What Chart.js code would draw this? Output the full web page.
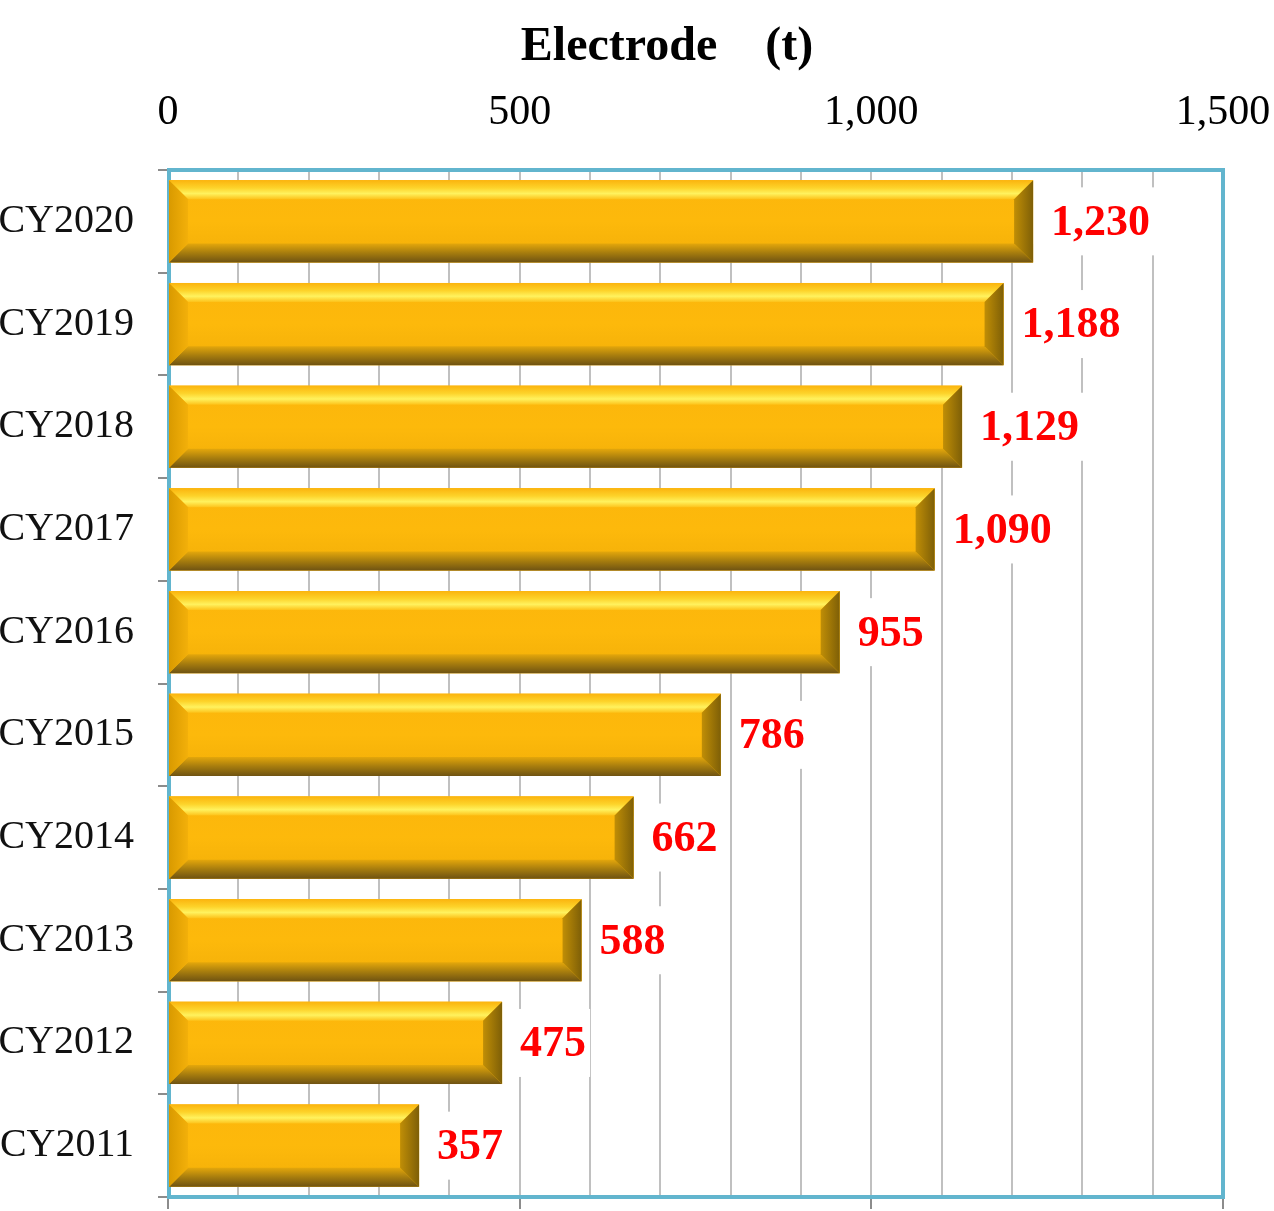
<!DOCTYPE html>
<html>
<head>
<meta charset="utf-8">
<script src="https://cdn.jsdelivr.net/npm/chart.js@4/dist/chart.umd.min.js"></script>
<style>
  html, body { margin: 0; padding: 0; background: #fff; }
  #wrap { width: 1274px; height: 1211px; }
</style>
</head>
<body>
<div id="wrap"><canvas id="electrodeChart" width="1274" height="1211"></canvas></div>
<script>
// data
const categories = ['CY2020', 'CY2019', 'CY2018', 'CY2017', 'CY2016', 'CY2015', 'CY2014', 'CY2013', 'CY2012', 'CY2011'];
const electrodeTonnes = [1230, 1188, 1129, 1090, 955, 786, 662, 588, 475, 357];
const axisTicks = [0, 500, 1000, 1500];
const gridStep = 100;
const chartTitle = 'Electrode\u3000(t)';

const FONT = "'Liberation Serif', 'Times New Roman', serif";

// no extra label padding, so the plot area lands where the original has it
function noPad(s) {
  s.paddingLeft = 0; s.paddingRight = 0; s.paddingTop = 0; s.paddingBottom = 0;
}

// title drawn over the plot, centred like the original
const titlePlugin = {
  id: 'titlePlugin',
  afterDraw(chart) {
    const ctx = chart.ctx;
    ctx.save();
    ctx.font = 'bold 48px ' + FONT;
    ctx.fillStyle = '#000';
    ctx.textAlign = 'center';
    ctx.textBaseline = 'middle';
    ctx.fillText(chartTitle, 667, 48);
    ctx.restore();
  }
};

// light blue frame round the plot area
const framePlugin = {
  id: 'framePlugin',
  beforeDatasetsDraw(chart) {
    const { ctx, chartArea: a } = chart;
    ctx.save();
    ctx.strokeStyle = '#62B5CE';
    ctx.lineWidth = 4;
    ctx.strokeRect(a.left + 1, a.top, a.right - a.left - 1, a.bottom - a.top);
    ctx.restore();
  }
};

// bevelled gold look on top of each bar, then the red value labels
const bevelPlugin = {
  id: 'bevelPlugin',
  afterDatasetsDraw(chart) {
    const ctx = chart.ctx;
    const meta = chart.getDatasetMeta(0);
    meta.data.forEach((bar, i) => {
      const p = bar.getProps(['x', 'y', 'base', 'height'], true);
      const L = p.base, R = p.x, T = p.y - p.height / 2, B = p.y + p.height / 2;
      const b = 19;
      ctx.save();

      // centre body
      const body = ctx.createLinearGradient(0, T, 0, B);
      body.addColorStop(0, '#FCB60C');
      body.addColorStop(0.5, '#FDB90B');
      body.addColorStop(1, '#F2AE08');
      ctx.fillStyle = body;
      ctx.fillRect(L, T, R - L, B - T);

      // top bevel
      const top = ctx.createLinearGradient(0, T, 0, T + b);
      top.addColorStop(0, '#FBB40E');
      top.addColorStop(0.4, '#FDD32A');
      top.addColorStop(0.7, '#FFF25E');
      top.addColorStop(1, '#FDC21A');
      ctx.fillStyle = top;
      ctx.beginPath();
      ctx.moveTo(L, T); ctx.lineTo(R, T); ctx.lineTo(R - b, T + b); ctx.lineTo(L + b, T + b);
      ctx.closePath(); ctx.fill();

      // bottom bevel
      const bot = ctx.createLinearGradient(0, B - b, 0, B);
      bot.addColorStop(0, '#E4A70B');
      bot.addColorStop(0.5, '#A67C0E');
      bot.addColorStop(1, '#6F5312');
      ctx.fillStyle = bot;
      ctx.beginPath();
      ctx.moveTo(L, B); ctx.lineTo(R, B); ctx.lineTo(R - b, B - b); ctx.lineTo(L + b, B - b);
      ctx.closePath(); ctx.fill();

      // left bevel
      const left = ctx.createLinearGradient(L, 0, L + b, 0);
      left.addColorStop(0, '#D99A00');
      left.addColorStop(1, '#F3B00A');
      ctx.fillStyle = left;
      ctx.beginPath();
      ctx.moveTo(L, T); ctx.lineTo(L + b, T + b); ctx.lineTo(L + b, B - b); ctx.lineTo(L, B);
      ctx.closePath(); ctx.fill();

      // right bevel
      const right = ctx.createLinearGradient(R - b, 0, R, 0);
      right.addColorStop(0, '#C08E06');
      right.addColorStop(1, '#7E5F07');
      ctx.fillStyle = right;
      ctx.beginPath();
      ctx.moveTo(R, T); ctx.lineTo(R, B); ctx.lineTo(R - b, B - b); ctx.lineTo(R - b, T + b);
      ctx.closePath(); ctx.fill();

      // value label with white backing (breaks the grid lines)
      const txt = electrodeTonnes[i].toLocaleString('en-US');
      ctx.font = 'bold 44px ' + FONT;
      const w = ctx.measureText(txt).width;
      const lx = R + 18;
      ctx.fillStyle = '#fff';
      ctx.fillRect(lx - 4, p.y - 34, w + 8, 68);
      ctx.fillStyle = '#FF0000';
      ctx.textAlign = 'left';
      ctx.textBaseline = 'middle';
      ctx.fillText(txt, lx, p.y + 2);
      ctx.restore();
    });
  }
};

const ctx = document.getElementById('electrodeChart').getContext('2d');
new Chart(ctx, {
  type: 'bar',
  data: {
    labels: categories,
    datasets: [{
      data: electrodeTonnes,
      backgroundColor: '#FDB913',
      borderWidth: 0,
      barPercentage: 0.8,
      categoryPercentage: 1.0,
      xAxisID: 'x',
      yAxisID: 'y'
    }]
  },
  options: {
    indexAxis: 'y',
    responsive: false,
    animation: false,
    layout: { padding: { left: 0, right: 51, top: 0, bottom: 0 } },
    plugins: {
      legend: { display: false },
      tooltip: { enabled: false },
      title: { display: false }
    },
    scales: {
      x: {
        type: 'linear',
        position: 'top',
        min: 0,
        max: 1500,
        afterFit: s => { s.height = 170; noPad(s); },
        afterBuildTicks: s => {
          const t = [];
          for (let v = 0; v <= 1500; v += gridStep) t.push({ value: v });
          s.ticks = t;
        },
        ticks: {
          autoSkip: false,
          maxRotation: 0,
          padding: 32,
          color: '#000',
          font: { family: FONT, size: 42 },
          callback: v => axisTicks.includes(v) ? v.toLocaleString('en-US') : ''
        },
        grid: { color: '#C0C0C0', lineWidth: 2, drawTicks: false },
        border: { display: false }
      },
      x2: {
        type: 'linear',
        position: 'bottom',
        min: 0,
        max: 1500,
        afterFit: s => { s.height = 14; noPad(s); },
        afterBuildTicks: s => { s.ticks = axisTicks.map(v => ({ value: v })); },
        ticks: { display: false },
        grid: { drawOnChartArea: false, color: '#8C8C8C', lineWidth: 2, tickLength: 12 },
        border: { color: '#8C8C8C', width: 2 }
      },
      y: {
        position: 'left',
        afterFit: s => { s.width = 168; noPad(s); },
        ticks: {
          padding: 24,
          color: '#111',
          font: { family: FONT, size: 40 }
        },
        grid: { offset: true, drawOnChartArea: false, color: '#8C8C8C', lineWidth: 2, tickLength: 10 },
        border: { color: '#8C8C8C', width: 2 }
      }
    }
  },
  plugins: [framePlugin, bevelPlugin, titlePlugin]
});
</script>
</body>
</html>
